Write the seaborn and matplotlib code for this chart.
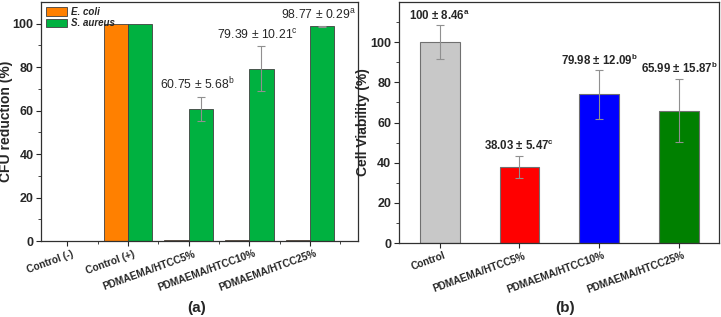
import numpy as np
import pandas as pd
import matplotlib
matplotlib.use("Agg")
import matplotlib.pyplot as plt
import matplotlib.transforms as mtransforms
import seaborn as sns

sns.set_style("ticks")
plt.rcParams['font.family'] = ['Liberation Sans', 'DejaVu Sans']
plt.rcParams['mathtext.fontset'] = 'custom'
plt.rcParams['mathtext.rm'] = 'Liberation Sans'
plt.rcParams['mathtext.bf'] = 'Liberation Sans:bold'

# ---- panel (a) data ----
cfu_categories = ["Control (-)", "Control (+)", "PDMAEMA/HTCC5%", "PDMAEMA/HTCC10%", "PDMAEMA/HTCC25%"]
ecoli_values = [0.0, 100.0, 0.4, 0.3, 0.3]
ecoli_errors = [0.0, 0.0, 0.0, 0.0, 0.0]
saureus_values = [0.0, 100.0, 60.75, 79.39, 98.77]
saureus_errors = [0.0, 0.0, 5.68, 10.21, 0.29]
cfu_labels = [None, None, "60.75 ± 5.68$^{\\mathrm{b}}$", "79.39 ± 10.21$^{\\mathrm{c}}$", "98.77 ± 0.29$^{\\mathrm{a}}$"]
species = ["E. coli", "S. aureus"]

# ---- panel (b) data ----
via_categories = ["Control", "PDMAEMA/HTCC5%", "PDMAEMA/HTCC10%", "PDMAEMA/HTCC25%"]
via_values = [100.0, 38.03, 74.0, 66.0]
via_errors = [8.46, 5.47, 12.09, 15.87]
via_labels = ["100 ± 8.46$^{\\mathbf{a}}$", "38.03 ± 5.47$^{\\mathbf{c}}$",
              "79.98 ± 12.09$^{\\mathbf{b}}$", "65.99 ± 15.87$^{\\mathbf{b}}$"]
via_colors = ["#c8c8c8", "#ff0000", "#0000ff", "#008000"]

fig = plt.figure(figsize=(7.21, 3.17), dpi=100)
axA = fig.add_axes([0.0569, 0.2397, 0.4397, 0.754])
axB = fig.add_axes([0.5534, 0.2334, 0.4438, 0.760])

# ---- panel (a) ----
dfA = pd.DataFrame({
    "cat": cfu_categories * 2,
    "val": ecoli_values + saureus_values,
    "sp": [species[0]] * 5 + [species[1]] * 5,
})
sns.barplot(data=dfA, x="cat", y="val", hue="sp", order=cfu_categories,
            hue_order=species, palette=["#ff8000", "#00b140"], width=0.8,
            saturation=1, edgecolor="#404040", linewidth=0.6, errorbar=None, ax=axA)
bar_containers = list(axA.containers[:2])
errs = [ecoli_errors, saureus_errors]
for ci, cont in enumerate(bar_containers):
    for bi, bar in enumerate(cont):
        e = errs[ci][bi]
        if e > 0:
            xc = bar.get_x() + bar.get_width() / 2
            axA.errorbar(xc, bar.get_height(), yerr=e, color="#909090",
                         lw=0.8, capsize=3, capthick=0.8, zorder=5)
green_bars = bar_containers[1]
for bi, lab in enumerate(cfu_labels):
    if lab:
        bar = green_bars[bi]
        xc = bar.get_x() + bar.get_width() / 2
        top = saureus_values[bi] + saureus_errors[bi]
        axA.text(xc - 0.06, top + 2.0, lab, ha="center", va="bottom", fontsize=8.8)
axA.set_xticks(np.arange(0.5, 4.6, 1.0), minor=True)
axA.set_xlim(-0.43, 4.79)
axA.set_ylim(0, 110)
axA.set_yticks([0, 20, 40, 60, 80, 100])
axA.set_yticks(np.arange(10, 110, 20), minor=True)
axA.set_ylabel("CFU reduction (%)", fontsize=10, fontweight="bold")
axA.yaxis.set_label_coords(-0.088, 0.5)
axA.set_xlabel("")
leg = axA.legend(loc="upper left", frameon=False, fontsize=7, handlelength=2.2,
                 handleheight=0.9, borderaxespad=0.1, labelspacing=0.15,
                 handletextpad=0.4)
for t in leg.get_texts():
    t.set_fontstyle("italic")
    t.set_fontweight("bold")

# ---- panel (b) ----
dfB = pd.DataFrame({"cat": via_categories, "val": via_values})
sns.barplot(data=dfB, x="cat", y="val", hue="cat", palette=via_colors,
            width=0.5, saturation=1, edgecolor="#707070", linewidth=0.8,
            errorbar=None, legend=False, ax=axB)
barsB = list(axB.patches)
for bi, bar in enumerate(barsB):
    xc = bar.get_x() + bar.get_width() / 2
    axB.errorbar(xc, bar.get_height(), yerr=via_errors[bi], color="#909090",
                 lw=0.8, capsize=3, capthick=0.8, zorder=5)
    axB.text(xc, via_values[bi] + via_errors[bi] + 1.3, via_labels[bi],
             ha="center", va="bottom", fontsize=8.3, fontweight="bold")
axB.set_xlim(-0.51, 3.5)
axB.set_ylim(0, 120)
axB.set_yticks([0, 20, 40, 60, 80, 100])
axB.set_yticks(np.arange(10, 120, 20), minor=True)
axB.set_ylabel("Cell Viability (%)", fontsize=10, fontweight="bold")
axB.yaxis.set_label_coords(-0.09, 0.5)
axB.set_xlabel("")

for ax, dx in ((axA, 8), (axB, 7)):
    for sp in ax.spines.values():
        sp.set_visible(True)
        sp.set_color("#303030")
        sp.set_linewidth(0.9)
    ax.tick_params(axis="both", which="major", direction="out", length=3.5,
                   width=0.8, labelsize=7.3, pad=2)
    ax.tick_params(axis="y", which="major", labelsize=9)
    ax.tick_params(axis="both", which="minor", direction="out", length=2, width=0.6)
    for lab in ax.get_yticklabels():
        lab.set_fontweight("bold")
    offset = mtransforms.ScaledTranslation(dx / 100, 0, fig.dpi_scale_trans)
    for lab in ax.get_xticklabels():
        lab.set_rotation(20)
        lab.set_ha("right")
        lab.set_fontweight("bold")
        lab.set_fontsize(7.3)
        lab.set_transform(lab.get_transform() + offset)

fig.text(197 / 721, 1 - 308 / 317, "(a)", ha="center", va="center", fontsize=11, fontweight="bold")
fig.text(565 / 721, 1 - 308 / 317, "(b)", ha="center", va="center", fontsize=11, fontweight="bold")

fig.savefig("out.png", dpi=100)
